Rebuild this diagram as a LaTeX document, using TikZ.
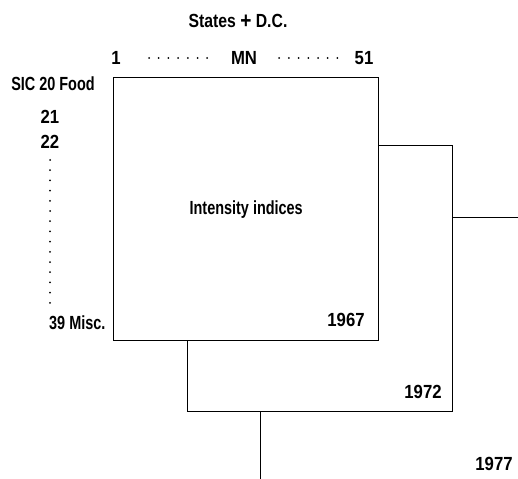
\documentclass[tikz,border=0pt]{standalone}
\usepackage{fontspec}
\setmainfont[FakeStretch=0.76]{Liberation Sans Bold}
\newfontfamily\widefont[FakeStretch=0.88]{Liberation Sans Bold}
\newfontfamily\midfont[FakeStretch=0.83]{Liberation Sans Bold}
\begin{document}
\begin{tikzpicture}[x=1pt,y=-1pt,
  lbl/.style={font=\fontsize{19}{21}\selectfont, inner sep=0pt},
  num/.style={font=\widefont\fontsize{19}{21}\selectfont, inner sep=0pt},
  frame/.style={draw=black, line width=1.4pt, fill=white},
  hdots/.style={line width=2pt, line cap=round, dash pattern=on 0pt off 9.7pt},
  vdots/.style={line width=2pt, line cap=round, dash pattern=on 0pt off 10.2pt}]
\useasboundingbox (0,0) rectangle (518,478);
\begin{scope}
\clip (0,0) rectangle (518,478);
\node[frame, anchor=north west, minimum width=300pt, minimum height=300pt, inner sep=0pt] (b3) at (260,217) {};
\node[frame, anchor=north west, minimum width=265pt, minimum height=266pt, inner sep=0pt] (b2) at (187,145) {};
\node[frame, anchor=north west, minimum width=265pt, minimum height=263pt, inner sep=0pt, font=\fontsize{19}{21}\selectfont] (b1) at (113,77) {Intensity indices};
\end{scope}
\node[num] (y67) at (346,320) {1967};
\node[num] (y72) at (423,392) {1972};
\node[num] (y77) at (494,464) {1977};
\node[lbl, font=\midfont\fontsize{19}{21}\selectfont] (states) at (238,21) {States {\fontsize{23}{23}\selectfont\raisebox{-1pt}{+}} D.C.};
\node[num] (one) at (116,58) {1};
\node[num] (mn) at (244,58) {MN};
\node[num] (ff) at (364,58) {51};
\draw[hdots] ([xshift=33pt]one.center) -- ([xshift=-20pt]mn.west);
\draw[hdots] ([xshift=22pt]mn.east) -- ([xshift=-11pt]ff.west);
\node[lbl] (sic) at (53,84) {SIC 20 Food};
\node[num] (s21) at (50,117) {21};
\node[num] (s22) at (50,142) {22};
\node[lbl, anchor=west] (s39) at (49,323) {39 Misc.};
\draw[vdots] ([yshift=-18pt]s22.center) -- ([yshift=-161pt]s22.center);
\end{tikzpicture}
\end{document}
